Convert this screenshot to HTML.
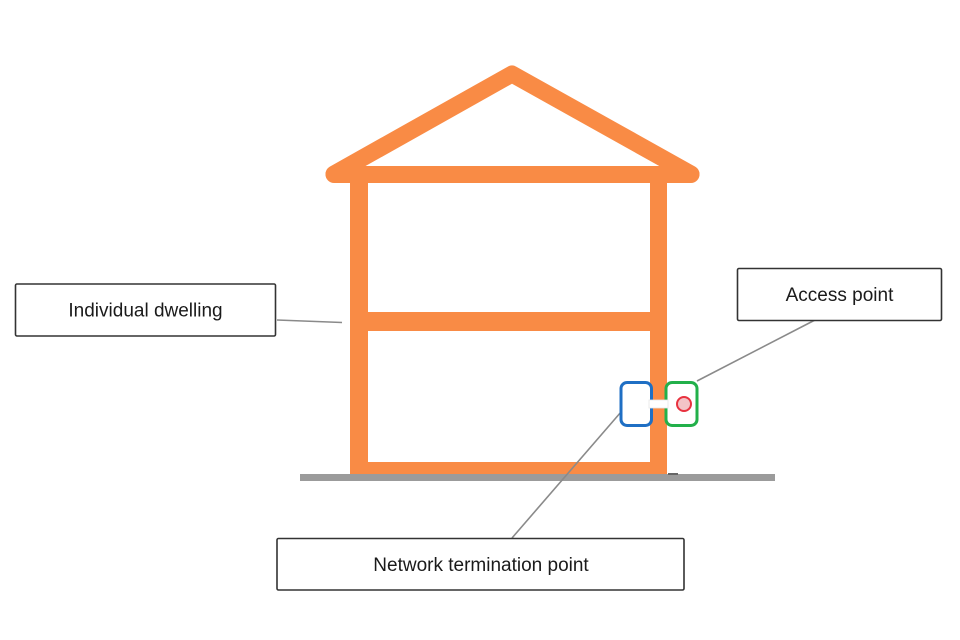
<!DOCTYPE html>
<html>
<head>
<meta charset="utf-8">
<style>
  html,body{margin:0;padding:0;background:#fff;}
  body{width:960px;height:640px;overflow:hidden;}
  svg{display:block;}
  text{font-family:"Liberation Sans", Arial, sans-serif;font-size:19px;fill:#1a1a1a;}
</style>
</head>
<body>
<svg width="960" height="640" viewBox="0 0 960 640" xmlns="http://www.w3.org/2000/svg">
  <rect x="0" y="0" width="960" height="640" fill="#ffffff"/>

  <!-- ground -->
  <rect x="300" y="474" width="475" height="7" fill="#9b9b9b"/>

  <!-- house -->
  <g stroke="#f98b45" fill="none">
    <polyline points="334,174 512,74 691,174" stroke-width="17" stroke-linejoin="round" stroke-linecap="round"/>
    <line x1="334" y1="174.5" x2="691" y2="174.5" stroke-width="17" stroke-linecap="round"/>
  </g>
  <g fill="#f98b45">
    <rect x="350" y="174" width="18" height="300"/>
    <rect x="650" y="174" width="17" height="300"/>
    <rect x="350" y="312" width="317" height="19"/>
    <rect x="350" y="462" width="317" height="12"/>
  </g>
  <rect x="668" y="473" width="10" height="2" fill="#666"/>

  <!-- connector lines -->
  <g stroke="#8a8a8a" stroke-width="1.6" fill="none">
    <line x1="277" y1="320" x2="342" y2="322.5"/>
    <line x1="697" y1="381" x2="815" y2="320"/>
    <line x1="621" y1="412" x2="512" y2="538"/>
  </g>

  <!-- network termination (blue) and access point (green) -->
  <rect x="621" y="382.5" width="30.5" height="43" rx="6" ry="6" fill="#ffffff" stroke="#1f6fc4" stroke-width="3"/>
  <rect x="666" y="382.5" width="31" height="43" rx="6" ry="6" fill="#ffffff" stroke="#22b04a" stroke-width="3"/>
  <rect x="649" y="400" width="19" height="8" fill="#ffffff" stroke="#e6e6e6" stroke-width="0.8"/>
  <circle cx="684" cy="404" r="7" fill="#f3c3c7" stroke="#e8323f" stroke-width="2"/>

  <!-- label boxes -->
  <g fill="#ffffff" stroke="#333333" stroke-width="1.6">
    <rect x="15.5" y="284" width="260" height="52" rx="1.5"/>
    <rect x="737.5" y="268.5" width="204" height="52" rx="1.5"/>
    <rect x="277" y="538.5" width="407" height="51.5" rx="1.5"/>
  </g>
  <text x="145.5" y="316.5" text-anchor="middle">Individual dwelling</text>
  <text x="839.5" y="301" text-anchor="middle">Access point</text>
  <text x="481" y="571" text-anchor="middle">Network termination point</text>
</svg>
</body>
</html>
